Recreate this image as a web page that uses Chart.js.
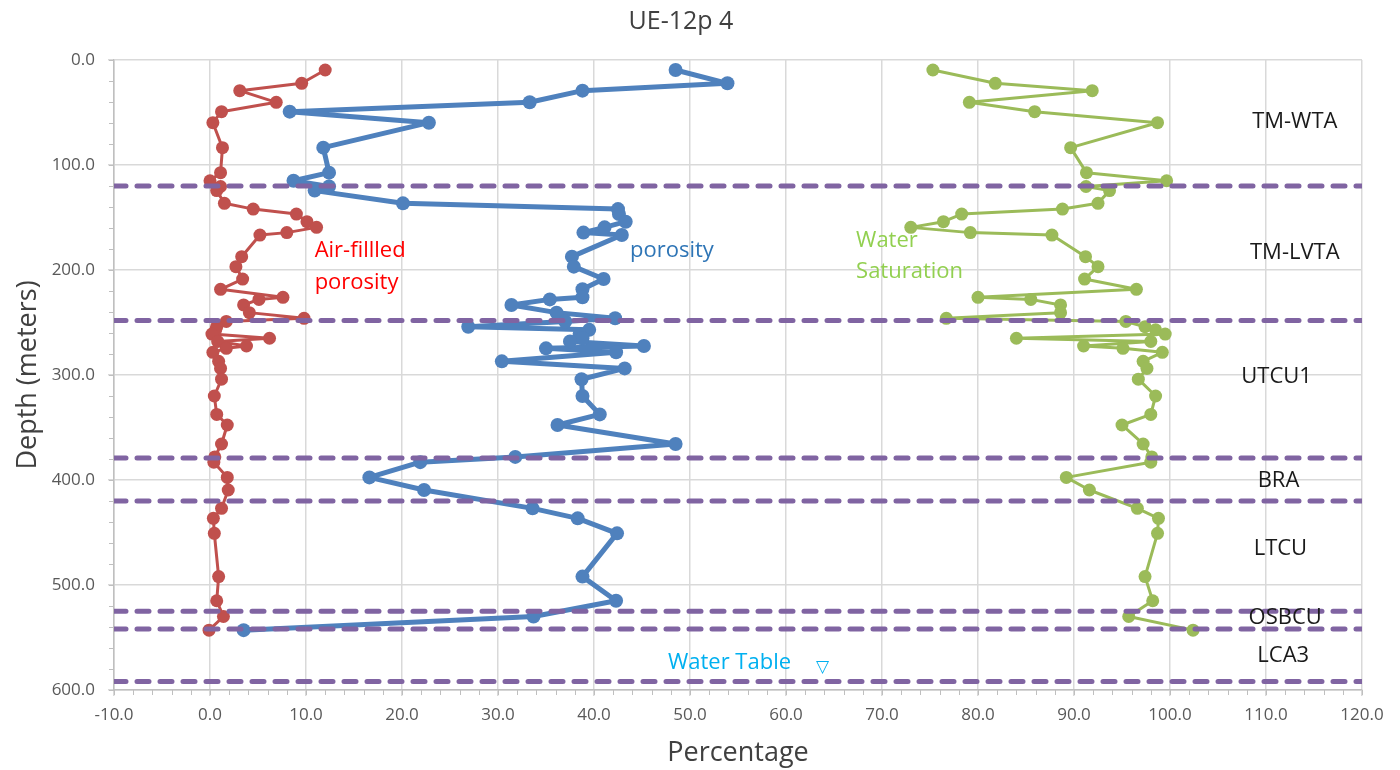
<!DOCTYPE html>
<html>
<head>
<meta charset="utf-8">
<title>UE-12p 4</title>
<script src="https://cdn.jsdelivr.net/npm/chart.js@4"></script>
<style>
  html, body { margin: 0; padding: 0; background: #ffffff; }
  #wrap { width: 1400px; height: 770px; position: relative; }
</style>
</head>
<body>
<div id="wrap"><canvas id="chart" width="1400" height="770"></canvas></div>
<script>
// sample depths (m), shared by the three curves
var depths = [9.5, 22.2, 29.2, 40.3, 49.2, 59.7, 83.5, 107.3, 115, 120.5, 124.4, 136.5, 142, 146.7,
    154, 159.4, 164.4, 166.7, 187.3, 196.8, 208.6, 218.4, 226, 228, 233.3, 240.6, 246,
    249, 254, 257, 261, 265, 268, 272.4, 274.6, 278.4, 287, 293.7,
    304, 320, 337.5, 347.6, 365.7, 378, 383, 397.5, 409.5, 427, 436.5, 450.8, 492, 515, 530, 543];

var airFilled = [12.0, 9.55, 3.1, 6.9, 1.2, 0.3, 1.3, 1.1, 0.0, 1.1, 0.7, 1.5, 4.5, 9.0,
    10.1, 11.1, 8.0, 5.2, 3.3, 2.7, 3.4, 1.1, 7.6, 5.1, 3.5, 4.1, 9.8,
    1.7, 0.7, 0.6, 0.2, 6.2, 0.8, 3.8, 1.7, 0.3, 0.9, 1.1,
    1.2, 0.45, 0.7, 1.8, 1.2, 0.5, 0.4, 1.8, 1.9, 1.2, 0.35, 0.45, 0.9, 0.7, 1.4, -0.1];

var porosity = [48.5, 53.9, 38.8, 33.3, 8.3, 22.8, 11.8, 12.4, 8.7, 12.4, 10.9, 20.1, 42.5, 42.6,
    43.3, 41.1, 38.9, 42.9, 37.7, 37.9, 41.0, 38.8, 38.8, 35.4, 31.4, 36.1, 42.2,
    37.0, 26.9, 39.5, 38.5, 38.8, 37.5, 45.2, 35.0, 42.3, 30.4, 43.2,
    38.7, 38.8, 40.6, 36.2, 48.5, 31.8, 21.9, 16.6, 22.3, 33.6, 38.3, 42.4, 38.8, 42.3, 33.7, 3.5];

var saturation = [75.3, 81.8, 91.9, 79.1, 85.9, 98.7, 89.65, 91.3, 99.65, 91.25, 93.7, 92.5, 88.8, 78.3,
    76.4, 73.0, 79.2, 87.7, 91.2, 92.5, 91.1, 96.5, 80.0, 85.5, 88.6, 88.6, 76.7,
    95.4, 97.4, 98.5, 99.5, 84.0, 98.0, 91.0, 95.1, 99.2, 97.2, 97.6,
    96.7, 98.5, 98.0, 95.0, 97.2, 98.1, 98.0, 89.2, 91.6, 96.6, 98.8, 98.7, 97.4, 98.2, 95.7, 102.4];

// unit boundaries (dashed lines)
var boundaryDepths = [120, 248, 379, 420, 525, 542, 592];

// unit names and where they sit (x %, depth m)
var unitNames = ['TM-WTA', 'TM-LVTA', 'UTCU1', 'BRA', 'LTCU', 'OSBCU', 'LCA3'];
var unitLabelX = [113.0, 113.0, 111.1, 111.3, 111.5, 112.0, 111.8];
var unitLabelDepth = [59, 184, 302, 401, 465, 531, 567];

var xTicks = { min: -10, max: 120, step: 10 };
var yTicks = { min: 0, max: 600, step: 100 };

var fontFamily = '"Open Sans", "Noto Sans", sans-serif';

function toPoints(values) {
    return depths.map(function (d, i) { return { x: values[i], y: d }; });
}

var datasets = [];
boundaryDepths.forEach(function (d) {
    datasets.push({
        data: [{ x: xTicks.min, y: d }, { x: xTicks.max, y: d }],
        showLine: true, borderColor: '#8064a2', borderWidth: 5,
        borderDash: [12, 11], borderCapStyle: 'round',
        pointRadius: 0, order: 0
    });
});
datasets.push({
    label: 'Air-filled porosity', data: toPoints(airFilled), showLine: true,
    borderColor: '#c0504d', backgroundColor: '#c0504d', borderWidth: 3,
    borderJoinStyle: 'round', pointRadius: 6.5, pointBorderWidth: 0, order: 3
});
datasets.push({
    label: 'porosity', data: toPoints(porosity), showLine: true,
    borderColor: '#4f81bd', backgroundColor: '#4f81bd', borderWidth: 5,
    borderJoinStyle: 'round', pointRadius: 7, pointBorderWidth: 0, order: 2
});
datasets.push({
    label: 'Water Saturation', data: toPoints(saturation), showLine: true,
    borderColor: '#9bbb59', backgroundColor: '#9bbb59', borderWidth: 3,
    borderJoinStyle: 'round', pointRadius: 6.5, pointBorderWidth: 0, order: 1
});

// small tick marks between the labelled ones
var minorTicks = {
    id: 'minorTicks',
    afterDraw: function (chart) {
        var ctx = chart.ctx, xs = chart.scales.x, ys = chart.scales.y, area = chart.chartArea;
        ctx.save();
        ctx.strokeStyle = '#bfbfbf';
        ctx.lineWidth = 1;
        ctx.beginPath();
        for (var v = xTicks.min; v <= xTicks.max; v += 2) {
            var px = Math.round(xs.getPixelForValue(v)) + 0.5;
            ctx.moveTo(px, area.bottom);
            ctx.lineTo(px, area.bottom + 5);
        }
        for (var d = yTicks.min; d <= yTicks.max; d += 20) {
            var py = Math.round(ys.getPixelForValue(d)) + 0.5;
            ctx.moveTo(area.left - 5, py);
            ctx.lineTo(area.left, py);
        }
        ctx.stroke();
        ctx.restore();
    }
};

// text notes on the plot
var notes = {
    id: 'notes',
    afterDatasetsDraw: function (chart) {
        var ctx = chart.ctx, xs = chart.scales.x, ys = chart.scales.y;
        function put(text, x, y, color, align, size) {
            ctx.fillStyle = color;
            ctx.textAlign = align;
            ctx.textBaseline = 'middle';
            ctx.font = size + 'px ' + fontFamily;
            ctx.fillText(text, xs.getPixelForValue(x), ys.getPixelForValue(y));
        }
        ctx.save();
        unitNames.forEach(function (n, i) {
            put(n, unitLabelX[i], unitLabelDepth[i], '#1a1a1a', 'center', 22);
        });
        put('Air-fillled', 10.9, 182, '#ff0000', 'left', 22);
        put('porosity', 10.9, 212, '#ff0000', 'left', 22);
        put('porosity', 43.75, 182, '#2e75b6', 'left', 22);
        put('Water', 67.3, 172.5, '#92d050', 'left', 22);
        put('Saturation', 67.3, 201.5, '#92d050', 'left', 22);
        put('Water Table', 47.7, 574, '#00b0f0', 'left', 22);
        put('\u25BD', 63.8, 578, '#00b0f0', 'center', 17);
        ctx.restore();
    }
};

var tickFont = { family: fontFamily, size: 17 };

new Chart(document.getElementById('chart').getContext('2d'), {
    type: 'scatter',
    data: { datasets: datasets },
    options: {
        responsive: false,
        animation: false,
        layout: { padding: { left: 0, right: 38, top: 0, bottom: 0 } },
        plugins: {
            legend: { display: false },
            tooltip: { enabled: false },
            title: {
                display: true, text: 'UE-12p 4', color: '#404040',
                font: { family: fontFamily, size: 25, weight: 'normal' },
                padding: { top: 7, bottom: 23 }
            }
        },
        scales: {
            x: {
                type: 'linear', min: xTicks.min, max: xTicks.max,
                ticks: {
                    stepSize: xTicks.step, color: '#595959', font: tickFont, padding: 9,
                    callback: function (v) { return v.toFixed(1); }
                },
                grid: { color: '#d9d9d9', lineWidth: 1.5, tickLength: 6 },
                border: { color: '#bfbfbf', width: 1.5 },
                title: {
                    display: true, text: 'Percentage', color: '#404040',
                    font: { family: fontFamily, size: 27 },
                    padding: { top: 10, bottom: 0 }
                },
                afterFit: function (s) { s.height = 80; }
            },
            y: {
                type: 'linear', min: yTicks.min, max: yTicks.max, reverse: true,
                ticks: {
                    stepSize: yTicks.step, color: '#595959', font: tickFont, padding: 13,
                    callback: function (v) { return v.toFixed(1); }
                },
                grid: { color: '#d9d9d9', lineWidth: 1.5, tickLength: 6 },
                border: { color: '#bfbfbf', width: 1.5 },
                title: {
                    display: true, text: 'Depth (meters)', color: '#404040',
                    font: { family: fontFamily, size: 27 },
                    padding: { top: 12, bottom: 4 }
                },
                afterFit: function (s) { s.width = 114; }
            }
        }
    },
    plugins: [minorTicks, notes]
});
</script>
</body>
</html>
